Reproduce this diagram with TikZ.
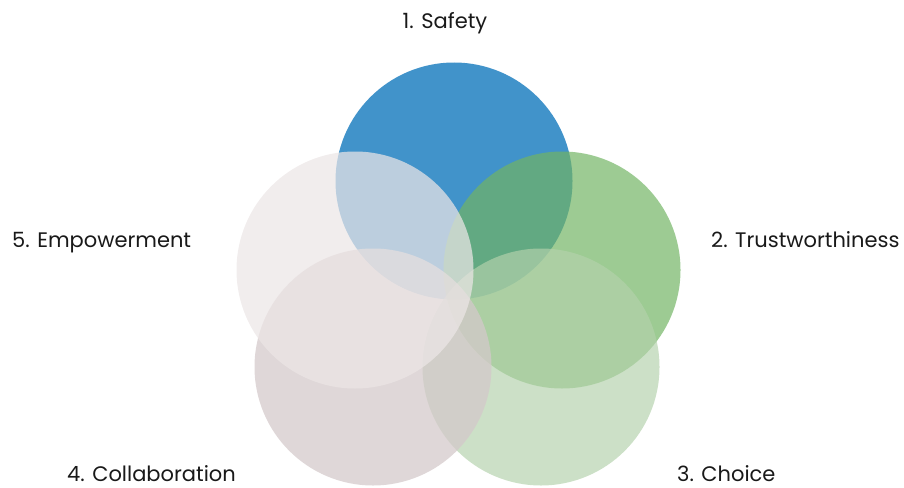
\documentclass[tikz,border=0pt]{standalone}
\usepackage{fontspec}
\setmainfont{Poppins}
\definecolor{cSafety}{RGB}{65,147,202}
\definecolor{cTrust}{RGB}{113,180,99}
\definecolor{cChoice}{RGB}{180,210,172}
\definecolor{cCollab}{RGB}{212,201,202}
\definecolor{cEmpow}{RGB}{236,230,230}
\tikzset{
  blob/.style={circle, minimum size=237pt, inner sep=0pt, draw=none},
  lbl/.style={font=\fontsize{21}{24}\selectfont, text=black!90, inner sep=0pt}
}
\begin{document}
\begin{tikzpicture}[x=1pt,y=-1pt]
\useasboundingbox (0,0) rectangle (904,487);
\node[blob, fill=cSafety] (safety) at (454,181) {};
\node[blob, fill=cTrust, fill opacity=0.69] (trust) at (562,270) {};
\node[blob, fill=cChoice, fill opacity=0.68] (choice) at (541,367) {};
\node[blob, fill=cCollab, fill opacity=0.74] (collab) at (373,367) {};
\node[blob, fill=cEmpow, fill opacity=0.72] (empow) at (355,270) {};
\node[lbl, anchor=base] (l1) at (445,29) {1. Safety};
\node[lbl, anchor=base west] (l2) at (711,247) {2. Trustworthiness};
\node[lbl, anchor=base west] (l3) at (677,481) {3. Choice};
\node[lbl, anchor=base west] (l4) at (67,481) {4. Collaboration};
\node[lbl, anchor=base west] (l5) at (12,247) {5. Empowerment};
\end{tikzpicture}
\end{document}
